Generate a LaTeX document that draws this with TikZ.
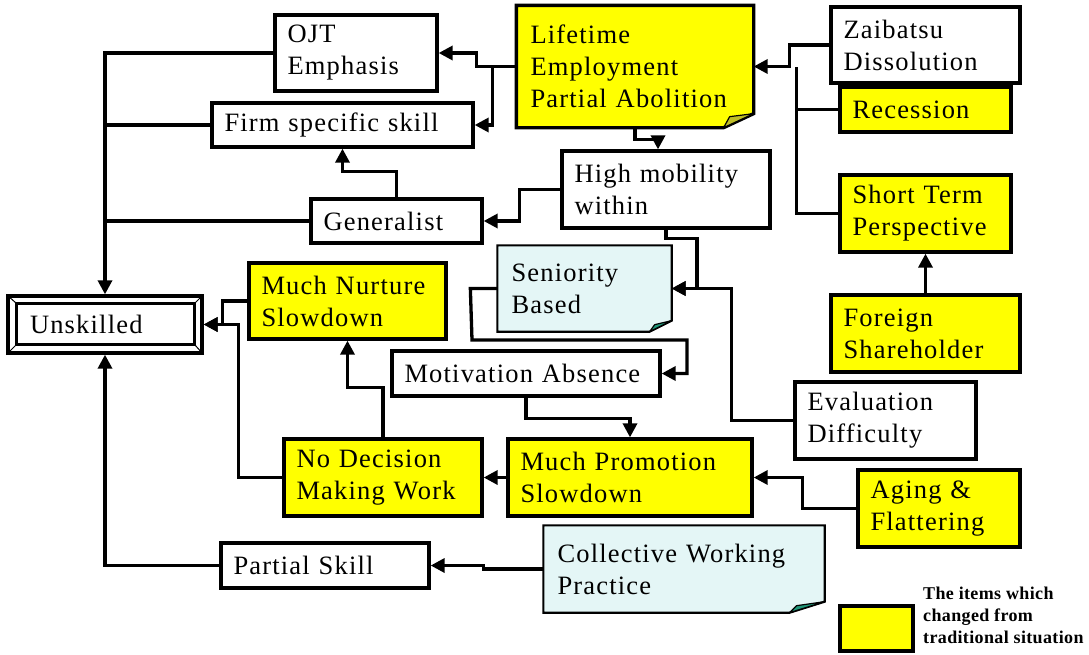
\documentclass[tikz,border=0pt]{standalone}
\usepackage{fontspec}
\setmainfont{Liberation Serif}
\newfontfamily\nf[LetterSpace=4.5]{Liberation Serif}
\newfontfamily\lf[LetterSpace=2]{Liberation Serif}
\usetikzlibrary{arrows.meta,backgrounds}
\definecolor{ylw}{RGB}{255,255,0}
\definecolor{notec}{RGB}{228,246,246}
\definecolor{foldy}{RGB}{190,190,40}
\definecolor{foldt}{RGB}{30,150,120}
\tikzset{
  bx/.style={draw=black, line width=3.3pt, rectangle, inner xsep=12.5pt, inner ysep=0pt,
    align=left, font=\nf\fontsize{26.5}{32}\selectfont},
  yb/.style={bx, fill=ylw},
  wb/.style={bx, fill=white},
  nt/.style={bx, draw=none},
  ln/.style={line width=3.3pt, line join=miter},
  arr/.style={ln, -{Triangle[length=14pt,width=14pt]}},
  notebg/.style={draw=black, line width=2.2pt, line join=miter, fill=notec},
  fold/.style={draw=black, line width=1.2pt, line join=round},
}
\newcommand\placebox[7]{%
  \pgfmathsetmacro\bw{#5-#3}%
  \pgfmathsetmacro\bh{#6-#4}%
  \pgfmathsetmacro\tw{#5-#3-25}%
  \pgfmathsetmacro\cx{(#3+#5)/2}%
  \pgfmathsetmacro\cy{(#4+#6)/2}%
  \node[#1, minimum width=\bw pt, minimum height=\bh pt, text width=\tw pt] (#2) at (\cx,\cy) {#7};%
}
\begin{document}
\begin{tikzpicture}[x=1pt,y=-1pt]
\useasboundingbox (0,0) rectangle (1089,654);
% boxes
\placebox{wb}{ojt}{275}{15}{437}{91}{OJT\\Emphasis}
\placebox{wb}{firm}{212}{103}{473}{147}{Firm specific skill}
\placebox{wb}{gen}{311}{199}{482}{243}{Generalist}
\placebox{nt}{life}{518}{7}{752}{126}{Lifetime\\Employment\\Partial Abolition}
\placebox{wb}{zai}{831}{7}{1020}{83}{Zaibatsu\\Dissolution}
\placebox{yb}{rec}{840}{87}{1011}{132}{Recession}
\placebox{wb}{hm}{562}{151}{770}{228}{High mobility\\within}
\placebox{yb}{st}{840}{175}{1011}{252}{Short Term\\Perspective}
\placebox{yb}{fs}{831}{295}{1020}{372}{Foreign\\Shareholder}
\placebox{nt}{sen}{499}{247}{670}{330}{Seniority\\Based}
\placebox{yb}{mn}{249}{263}{446}{339}{Much Nurture\\Slowdown}
\placebox{wb}{mot}{392}{351}{660}{396}{Motivation Absence}
\placebox{yb}{nd}{284}{439}{482}{516}{No Decision\\Making Work}
\placebox{yb}{mps}{508}{439}{752}{516}{Much Promotion\\Slowdown}
\placebox{wb}{ev}{795}{382}{976}{459}{Evaluation\\Difficulty}
\placebox{yb}{ag}{858}{470}{1020}{547}{Aging \&\\Flattering}
\placebox{wb}{ps}{221}{543}{429}{588}{Partial Skill}
\placebox{nt}{cw}{545}{527}{823}{611}{Collective Working\\Practice}
\placebox{yb}{leg}{840}{606}{913}{651}{}
% unskilled bevel frame
\node[bx, fill=white, minimum width=194pt, minimum height=57pt, inner xsep=22pt, text width=150pt] (unsk) at (105,324.5) {Unskilled};
\draw[line width=2.8pt] ([shift={(10pt,-9pt)}]unsk.north west) rectangle ([shift={(-9pt,10pt)}]unsk.south east);
\draw[line width=1pt] (unsk.north west) -- ([shift={(10pt,-9pt)}]unsk.north west);
\draw[line width=1pt] (unsk.north east) -- ([shift={(-9pt,-9pt)}]unsk.north east);
\draw[line width=1pt] (unsk.south west) -- ([shift={(10pt,10pt)}]unsk.south west);
\draw[line width=1pt] (unsk.south east) -- ([shift={(-9pt,10pt)}]unsk.south east);
% legend text
\node[anchor=north west, align=left, inner sep=0pt, font=\lf\bfseries\fontsize{18}{22}\selectfont] (legt) at (923,587) {The items which\\changed from\\traditional situation};
% folded notes
\begin{scope}[on background layer]
\draw[notebg, fill=ylw, line width=3.3pt] (life.north west) -- (life.north east) -- ([yshift=14pt]life.south east) -- ([xshift=-30pt]life.south east) -- (life.south west) -- cycle;
\draw[fold, fill=foldy] ([yshift=14pt]life.south east) -- ([xshift=-30pt]life.south east) -- ([xshift=-24pt,yshift=11pt]life.south east) -- cycle;
\draw[notebg] (sen.north west) -- (sen.north east) -- ([yshift=11pt]sen.south east) -- ([xshift=-22pt]sen.south east) -- (sen.south west) -- cycle;
\draw[fold, fill=foldt] ([yshift=11pt]sen.south east) -- ([xshift=-22pt]sen.south east) -- ([xshift=-17pt,yshift=7pt]sen.south east) -- cycle;
\draw[notebg] (cw.north west) -- (cw.north east) -- ([yshift=11pt]cw.south east) -- ([xshift=-35pt]cw.south east) -- (cw.south west) -- cycle;
\draw[fold, fill=foldt] ([yshift=11pt]cw.south east) -- ([xshift=-35pt]cw.south east) -- ([xshift=-28pt,yshift=7pt]cw.south east) -- cycle;
\end{scope}
% connectors
\draw[arr] (life.west) -- ++(-40,0) |- (ojt.east);
\draw[arr] (life.west) -- ++(-24,0) |- (firm.east);
\draw[arr] (life.south) -- ++(0,12) -- ++(23,0) -- ([xshift=-8pt]hm.north);
\draw[arr] (zai.west) -- ++(-40,0) |- (life.east);
\draw[ln] (rec.west) -| ([xshift=43pt]life.east);
\draw[ln] (st.west) -| ([xshift=43pt]life.east);
\draw[arr] (fs.north) -- (st.south);
\draw[arr] (hm.west) -- ++(-41,0) |- (gen.east);
\draw[arr] (gen.north) -- ++(0,-26) -| (firm.south);
\draw[arr] (ojt.west) -| (unsk.north);
\draw[ln] (firm.west) -- (firm.west -| unsk.north);
\draw[ln] (gen.west) -- (gen.west -| unsk.north);
\draw[arr] (ps.west) -| (unsk.south);
\draw[arr] (cw.west) -- ++(-60,0) |- (ps.east);
\draw[arr] (hm.south) -- ++(0,9) -- ++(31,0) |- (sen.east);
\draw[arr] (ev.west) -- ++(-62,0) |- (sen.east);
\draw[arr] (sen.west) -- ++(-27,0) -- (472,340) -- (687,340) |- (mot.east);
\draw[arr] (mot.south) -- ++(0,21) -| (mps.north);
\draw[arr] (mps.west) -- (nd.east);
\draw[arr] (ag.west) -- ++(-54,0) |- (mps.east);
\draw[arr] (nd.north) -- ++(0,-50) -| (mn.south);
\draw[arr] (mn.west) -- ++(-25,0) |- (unsk.east);
\draw[arr] (nd.west) -- ++(-44,0) |- (unsk.east);
\end{tikzpicture}
\end{document}
